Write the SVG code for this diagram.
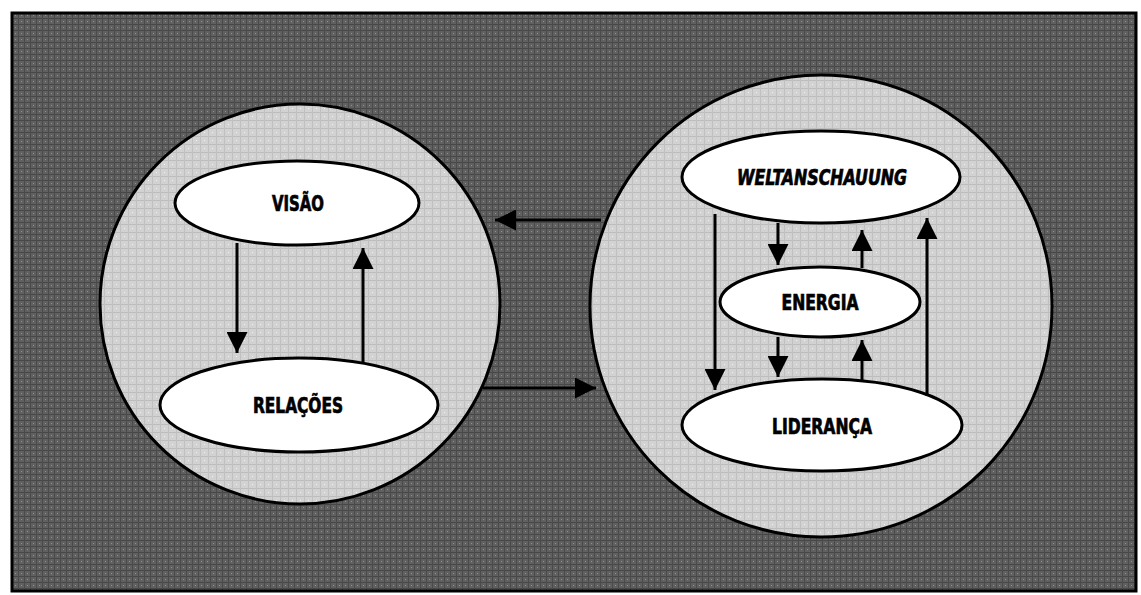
<svg xmlns="http://www.w3.org/2000/svg" width="1141" height="595" viewBox="0 0 1141 595">
  <defs>
    <pattern id="dark" width="6" height="6" patternUnits="userSpaceOnUse">
      <rect width="6" height="6" fill="#606060"/>
      <rect width="6" height="1" fill="#474747"/>
      <rect width="1" height="6" fill="#4a4a4a"/>
      <rect x="3" y="3" width="1" height="1" fill="#929292"/>
    </pattern>
    <pattern id="light" width="8" height="8" patternUnits="userSpaceOnUse">
      <rect width="8" height="8" fill="#d2d2d2"/>
      <rect width="8" height="1" fill="#bdbdbd"/>
      <rect width="1" height="8" fill="#c0c0c0"/>
      <rect x="4" y="4" width="1" height="1" fill="#f4f4f4"/>
    </pattern>
    <marker id="ah" viewBox="0 0 10 10" refX="10" refY="5" markerWidth="7" markerHeight="7" markerUnits="strokeWidth" orient="auto">
      <path d="M0,0 L10,5 L0,10 Z" fill="#000"/>
    </marker>
  </defs>
  <style>
    .circle { fill: url(#light); stroke: #000; stroke-width: 3; }
    .node { fill: #fff; stroke: #000; stroke-width: 3; }
    .label { font-family: "Liberation Sans Narrow", "Arial Narrow", "DejaVu Sans Condensed", "Liberation Sans", sans-serif; font-weight: bold; font-size: 21px; fill: #000; stroke: #000; stroke-width: 0.7; text-anchor: middle; dominant-baseline: central; }
    .conn line { stroke: #000; stroke-width: 3; marker-end: url(#ah); }
  </style>
  <rect width="1141" height="595" fill="#fff"/>
  <rect x="12" y="13" width="1124" height="578" fill="url(#dark)" stroke="#000" stroke-width="3"/>

  <g id="left-circle">
    <circle class="circle" cx="300" cy="304" r="200"/>
  </g>
  <g id="right-circle">
    <circle class="circle" cx="821" cy="306" r="231"/>
  </g>

  <g id="node-visao">
    <ellipse class="node" cx="297" cy="203" rx="122" ry="42"/>
    <text class="label" x="298" y="204" textLength="52" lengthAdjust="spacingAndGlyphs">VISÃO</text>
  </g>
  <g id="node-relacoes">
    <ellipse class="node" cx="299" cy="405" rx="139" ry="47"/>
    <text class="label" x="298" y="406" textLength="90" lengthAdjust="spacingAndGlyphs">RELAÇÕES</text>
  </g>
  <g id="node-weltanschauung">
    <ellipse class="node" cx="821" cy="177" rx="139" ry="46"/>
    <text class="label" x="822" y="178" font-style="italic" textLength="170" lengthAdjust="spacingAndGlyphs">WELTANSCHAUUNG</text>
  </g>
  <g id="node-energia">
    <ellipse class="node" cx="820" cy="302" rx="100" ry="35"/>
    <text class="label" x="820" y="303" textLength="77" lengthAdjust="spacingAndGlyphs">ENERGIA</text>
  </g>
  <g id="node-lideranca">
    <ellipse class="node" cx="822" cy="425" rx="140" ry="46"/>
    <text class="label" x="822" y="427" textLength="100" lengthAdjust="spacingAndGlyphs">LIDERANÇA</text>
  </g>

  <g id="connectors" class="conn">
    <line x1="237" y1="243" x2="237" y2="353"/>
    <line x1="363" y1="362" x2="363" y2="248"/>
    <line x1="601" y1="220" x2="495" y2="220"/>
    <line x1="483" y1="388" x2="596" y2="388"/>
    <line x1="715" y1="214" x2="715" y2="390"/>
    <line x1="778" y1="223" x2="778" y2="265"/>
    <line x1="862" y1="268" x2="862" y2="230"/>
    <line x1="927" y1="396" x2="927" y2="218"/>
    <line x1="778" y1="337" x2="778" y2="377"/>
    <line x1="862" y1="380" x2="862" y2="340"/>
  </g>
</svg>
